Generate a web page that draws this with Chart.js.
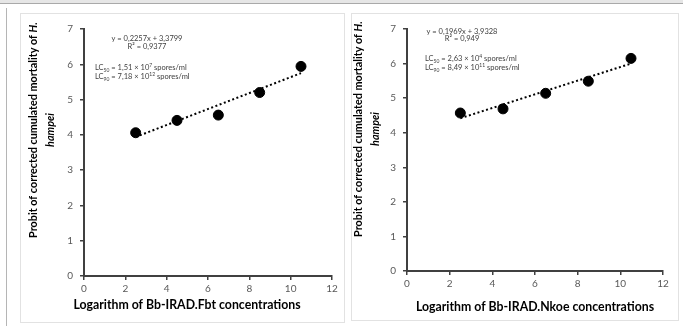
<!DOCTYPE html>
<html>
<head>
<meta charset="utf-8">
<script src="https://cdn.jsdelivr.net/npm/chart.js@4"></script>
<style>
body{margin:0;width:683px;height:326px;background:#fff;position:relative;overflow:hidden;font-family:Lato}
#band{position:absolute;left:0;top:0;width:683px;height:3px;background:#e6e6e6;border-bottom:1px solid #a9a9a9}
#outer{position:absolute;left:6px;top:8px;height:318px;border-left:1px solid #b5b5b5}
.panel{position:absolute;border:1.5px solid #e2e2e2;box-sizing:border-box}
canvas{position:absolute}
</style>
</head>
<body>
<div id="band"></div>
<div id="outer"></div>
<div class="panel" style="left:20px;top:13px;width:325px;height:310px"></div>
<div class="panel" style="left:351px;top:13px;width:328px;height:308px"></div>
<canvas id="fbt" width="325" height="310" style="left:20px;top:13px"></canvas>
<canvas id="nkoe" width="328" height="308" style="left:351px;top:13px"></canvas>
<script>
// log10 of concentrations
var xLog = [2.5, 4.5, 6.5, 8.5, 10.5];
var probitFbt = [4.06, 4.41, 4.56, 5.2, 5.94];
var probitNkoe = [4.57, 4.69, 5.14, 5.49, 6.15];
// linear trend ends (from the fitted equations)
var trendX = [2.5, 10.5];
var trendFbt = [3.94, 5.75];
var trendNkoe = [4.42, 6.0];

var xTitles = ["Logarithm of Bb-IRAD.Fbt concentrations", "Logarithm of Bb-IRAD.Nkoe concentrations"];
var eqFbt = ["y = 0,2257x + 3,3799", "R² = 0,9377"];
var eqNkoe = ["y = 0,1969x + 3,9328", "R² = 0,949"];
// LC lines: [mantissa, exponent]
var lcFbt = [["1,51", "7"], ["7,18", "12"]];
var lcNkoe = [["2,63", "4"], ["8,49", "11"]];
var yTitle = [
  [{t: "Probit of corrected cumulated mortality of ", i: false}, {t: "H.", i: true}],
  [{t: "hampei", i: true}]
];

function richLine(ctx, parts, cx, cy, size) {
  var w = 0;
  parts.forEach(function(p){
    ctx.font = (p.i ? "italic " : "") + "bold " + size + "px Lato";
    w += ctx.measureText(p.t).width;
  });
  var x = cx - w/2;
  parts.forEach(function(p){
    ctx.font = (p.i ? "italic " : "") + "bold " + size + "px Lato";
    ctx.fillText(p.t, x, cy);
    x += ctx.measureText(p.t).width;
  });
}

// small text with sub/superscripts, left aligned
function smallLine(ctx, parts, x, y) {
  parts.forEach(function(p){
    var dy = 0;
    if (p.s == "sub") { ctx.font = "5px Lato"; dy = 2; }
    else if (p.s == "sup") { ctx.font = "5px Lato"; dy = -2.5; }
    else ctx.font = "7.5px Lato";
    ctx.fillText(p.t, x, y + dy);
    x += ctx.measureText(p.t).width;
  });
}

function lcParts(n, v) {
  return [{t: "LC"}, {t: n, s: "sub"}, {t: " = " + v[0] + " × 10"}, {t: v[1], s: "sup"}, {t: " spores/ml"}];
}

function textPlugin(lay) {
  return {
    id: "texts",
    afterDraw: function(chart) {
      var ctx = chart.ctx;
      ctx.save();
      ctx.fillStyle = "#000";
      ctx.textBaseline = "middle";
      ctx.textAlign = "left";
      for (var k = 0; k < 2; k++) {
        ctx.save();
        ctx.translate(lay.yx[k], lay.yy);
        ctx.rotate(-Math.PI/2);
        richLine(ctx, yTitle[k], 0, 0, 10.8);
        ctx.restore();
      }
      richLine(ctx, [{t: lay.xt, i: false}], lay.xx, lay.xy, 12.3);
      ctx.fillStyle = "#404040";
      ctx.font = "7.5px Lato";
      ctx.textAlign = "center";
      ctx.fillText(lay.eq[0], lay.ex, lay.ey[0]);
      ctx.fillText(lay.eq[1], lay.ex, lay.ey[1]);
      ctx.textAlign = "left";
      smallLine(ctx, lcParts("50", lay.lc[0]), lay.lx, lay.ey[2]);
      smallLine(ctx, lcParts("90", lay.lc[1]), lay.lx, lay.ey[3]);
      ctx.restore();
    }
  };
}

function makeChart(id, ys, trendY, yW, xH, padR, lay) {
  var pts = xLog.map(function(x, k){ return {x: x, y: ys[k]}; });
  var tr = trendX.map(function(x, k){ return {x: x, y: trendY[k]}; });
  return new Chart(document.getElementById(id), {
    type: "scatter",
    data: {
      datasets: [{
        data: pts,
        backgroundColor: "#000",
        borderColor: "#000",
        pointRadius: 5
      }, {
        type: "line",
        data: tr,
        borderColor: "#000",
        borderWidth: 2,
        borderDash: [2, 2.5],
        pointRadius: 0,
        fill: false
      }]
    },
    options: {
      responsive: false,
      animation: false,
      layout: {padding: {top: 16, right: padR, left: 0, bottom: 0}},
      plugins: {legend: {display: false}, tooltip: {enabled: false}},
      scales: {
        x: {
          type: "linear", min: 0, max: 12,
          ticks: {stepSize: 2, color: "#595959", font: {family: "Lato", size: 10}, padding: 3},
          grid: {drawOnChartArea: false, drawTicks: true, tickLength: 4, color: "#404040", lineWidth: 1.5},
          border: {color: "#404040", width: 2},
          afterFit: function(s){ s.height = xH; }
        },
        y: {
          min: 0, max: 7,
          ticks: {stepSize: 1, color: "#595959", font: {family: "Lato", size: 10}, padding: 7},
          grid: {drawOnChartArea: false, drawTicks: true, tickLength: 4, color: "#404040", lineWidth: 1.5},
          border: {color: "#404040", width: 2},
          afterFit: function(s){ s.width = yW; }
        }
      }
    },
    plugins: [textPlugin(lay)]
  });
}

makeChart("fbt", probitFbt, trendFbt, 64, 47, 13, {
  yx: [14, 31], yy: 117, xt: xTitles[0], xx: 167, xy: 292,
  eq: eqFbt, lc: lcFbt, ex: 127, lx: 75, ey: [26, 34, 55, 64]
});
makeChart("nkoe", probitNkoe, trendNkoe, 56, 50, 16, {
  yx: [8, 25], yy: 116, xt: xTitles[1], xx: 184, xy: 294,
  eq: eqNkoe, lc: lcNkoe, ex: 111, lx: 74, ey: [19, 26, 46, 55]
});
</script>
</body>
</html>
